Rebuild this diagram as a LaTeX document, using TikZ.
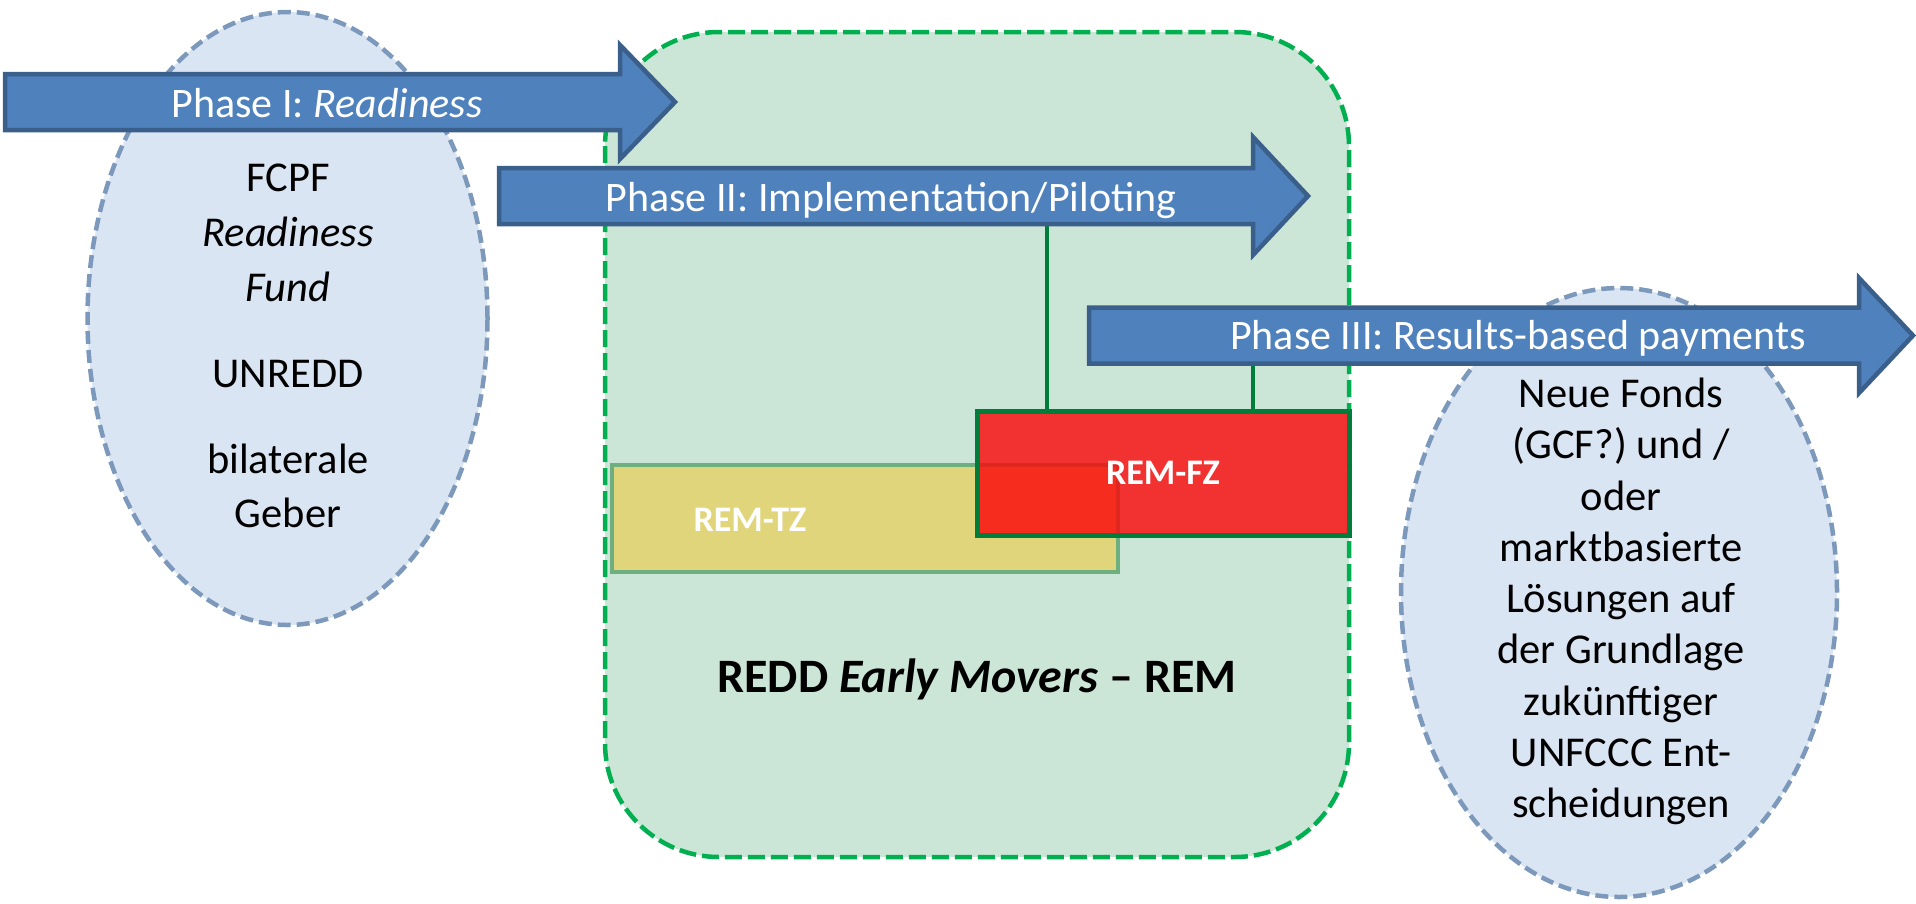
\documentclass[tikz,border=0pt]{standalone}
\usepackage{fontspec}
\setmainfont{Carlito}
\definecolor{ellfill}{RGB}{218,229,243}
\definecolor{ellline}{RGB}{124,152,187}
\definecolor{remfill}{RGB}{203,229,214}
\definecolor{remline}{RGB}{0,176,80}
\definecolor{arrfill}{RGB}{79,129,189}
\definecolor{arrline}{RGB}{58,95,139}
\definecolor{tzfill}{RGB}{224,213,122}
\definecolor{tzline}{RGB}{110,175,127}
\definecolor{fzline}{RGB}{0,125,58}
\definecolor{fzfill}{RGB}{252,4,8}
\tikzset{
  ellipsebox/.style={fill=ellfill, draw=ellline, line width=4.5pt, dash pattern=on 13pt off 6pt},
  rembox/.style={fill=remfill, draw=remline, line width=4.5pt, dash pattern=on 17pt off 6pt, rounded corners=114pt},
  phasearrow/.style={fill=arrfill, draw=arrline, line width=4.5pt, line join=miter},
  phasetext/.style={text=white, anchor=base, inner sep=0pt, font=\fontsize{42}{50}\selectfont},
  elltext/.style={text=black, anchor=base, inner sep=0pt, font=\fontsize{42.5}{50}\selectfont},
  tzbox/.style={fill=tzfill, draw=tzline, line width=4pt, minimum width=506pt, minimum height=107pt, inner sep=0pt},
  fzbox/.style={fill=fzfill, fill opacity=0.8, text opacity=1, draw=fzline, draw opacity=1, line width=5pt, minimum width=372pt, minimum height=124pt, inner sep=0pt, text=white, font=\fontsize{36}{42}\selectfont\bfseries},
  remtext/.style={text=white, anchor=base, inner sep=0pt, font=\fontsize{36}{42}\selectfont\bfseries},
  vline/.style={draw=fzline, line width=3.5pt},
}
\begin{document}
\begin{tikzpicture}[x=1pt,y=-1pt]
\useasboundingbox (0,0) rectangle (1916,903);
% ellipses
\path[ellipsebox] (287.5,318.5) ellipse [x radius=200pt, y radius=306.5pt];
\path[ellipsebox] (1619,592.5) ellipse [x radius=218pt, y radius=304.5pt];
% REM area
\path[rembox] (605,32) rectangle (1349,857);
% REM-TZ and REM-FZ
\node[tzbox] (tz) at (865,518.5) {};
\node[fzbox] (fz) at (1163,473) {REM-FZ};
\node[remtext] (tztext) at (750,531) {REM-TZ};
% connectors from phase arrows to REM-FZ
\coordinate (c1) at (1047,224);
\coordinate (c2) at (1253,363);
\draw[vline] (c1) -- (c1 |- fz.north);
\draw[vline] (c2) -- (c2 |- fz.north);
% phase arrows
\path[phasearrow] (5,74) -- (620,74) -- (620,45) -- (675,102) -- (620,159) -- (620,130) -- (5,130) -- cycle;
\path[phasearrow] (499,168) -- (1253,168) -- (1253,137) -- (1308,196) -- (1253,255) -- (1253,224) -- (499,224) -- cycle;
\path[phasearrow] (1089,307.5) -- (1859,307.5) -- (1859,278) -- (1913,335.5) -- (1859,393) -- (1859,363.5) -- (1089,363.5) -- cycle;
\node[phasetext] (p1) at (327,117) {Phase I: \textit{Readiness}};
\node[phasetext] (p2) at (891,211) {Phase II: Implementation/Piloting};
\node[phasetext] (p3) at (1518,349) {Phase III: Results-based payments};
% left ellipse text
\node[elltext] (a1) at (288,191) {FCPF};
\node[elltext] (a2) at (288,246) {\textit{Readiness}};
\node[elltext] (a3) at (288,301) {\textit{Fund}};
\node[elltext] (a4) at (288,387) {UNREDD};
\node[elltext] (a5) at (288,473) {bilaterale};
\node[elltext] (a6) at (288,527) {Geber};
% right ellipse text
\node[elltext] (b1) at (1621,407) {Neue Fonds};
\node[elltext] (b2) at (1621,458) {(GCF?) und /};
\node[elltext] (b3) at (1621,510) {oder};
\node[elltext] (b4) at (1621,561) {marktbasierte};
\node[elltext] (b5) at (1621,612) {Lösungen auf};
\node[elltext] (b6) at (1621,663) {der Grundlage};
\node[elltext] (b7) at (1621,715) {zukünftiger};
\node[elltext] (b8) at (1621,766) {UNFCCC Ent-};
\node[elltext] (b9) at (1621,817) {scheidungen};
% REM title
\node[elltext, font=\fontsize{48}{54}\selectfont\bfseries] (title) at (977,692) {REDD \textit{Early Movers} – REM};
\end{tikzpicture}
\end{document}
